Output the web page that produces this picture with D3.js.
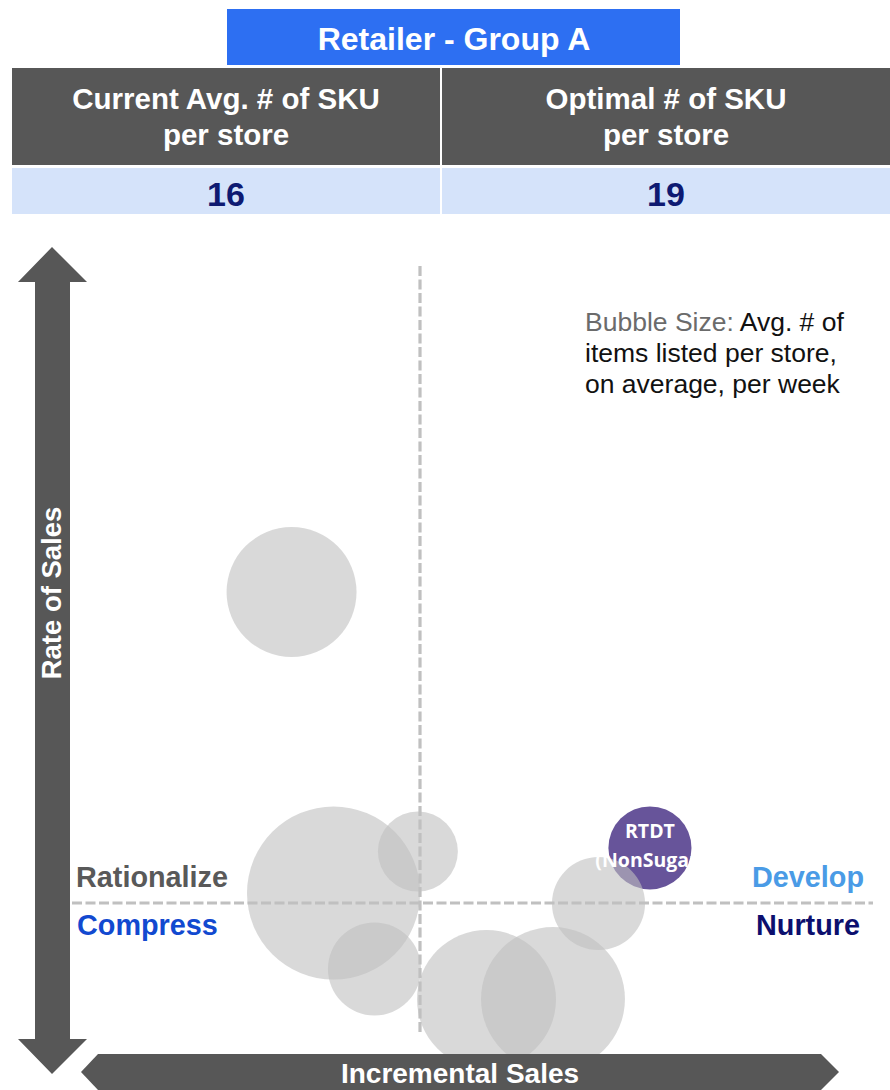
<!DOCTYPE html>
<html>
<head>
<meta charset="utf-8">
<script src="https://cdn.jsdelivr.net/npm/d3@7"></script>
<style>
  html, body { margin: 0; padding: 0; background: #ffffff; }
  svg { display: block; }
</style>
</head>
<body>
<div id="chart"></div>
<script>
// ---- Data -------------------------------------------------------------
const title = "Retailer - Group A";
const metricHeaders = [["Current Avg. # of SKU", "per store"], ["Optimal # of SKU", "per store"]];
const metricValues = [16, 19];

// One entry per segment bubble
const segmentNames     = ["", "", "", "", "", "", "", "RTDT|(NonSugar)"];
const incrementalSales = [-24.7, -0.6, -13.0, 19.0, 38.0, 51.0, -36.7, 65.7];
const rateOfSales      = [7.1, 36.8, -47.1, -68.9, -68.6, -0.4, 222.1, 39.3];
const itemsListed      = [4.08, 0.87, 1.18, 2.63, 2.82, 1.18, 2.30, 0.94];
const highlighted      = [false, false, false, false, false, false, false, true];

const quadrantLabels = ["Rationalize", "Develop", "Compress", "Nurture"];
const axisLabels = ["Incremental Sales", "Rate of Sales"];
const legendLines = [["Bubble Size: ", "Avg. # of"], ["", "items listed per store,"], ["", "on average, per week"]];

// ---- Layout -----------------------------------------------------------
const W = 890, H = 1090;
const dark = "#575757";
const sans = "'Liberation Sans', Arial, sans-serif";

const svg = d3.select("#chart").append("svg")
  .attr("width", W).attr("height", H)
  .attr("viewBox", `0 0 ${W} ${H}`);

// Header block
svg.append("rect").attr("x", 227).attr("y", 9).attr("width", 453).attr("height", 56).attr("fill", "#2d6ff2");
svg.append("text").attr("x", 454).attr("y", 50).attr("text-anchor", "middle")
  .attr("font-family", sans).attr("font-weight", "bold").attr("font-size", 32).attr("fill", "#ffffff")
  .text(title);

const cells = [{x0: 12, x1: 440}, {x0: 442, x1: 890}];
cells.forEach((c, i) => {
  const cx = (c.x0 + c.x1) / 2;
  svg.append("rect").attr("x", c.x0).attr("y", 68).attr("width", c.x1 - c.x0).attr("height", 97).attr("fill", dark);
  svg.append("rect").attr("x", c.x0).attr("y", 168).attr("width", c.x1 - c.x0).attr("height", 46).attr("fill", "#d5e3fa");
  metricHeaders[i].forEach((line, j) => {
    svg.append("text").attr("x", cx).attr("y", 109 + j * 36).attr("text-anchor", "middle")
      .attr("font-family", sans).attr("font-weight", "bold").attr("font-size", 29.5).attr("fill", "#ffffff")
      .text(line);
  });
  svg.append("text").attr("x", cx).attr("y", 206).attr("text-anchor", "middle")
    .attr("font-family", sans).attr("font-weight", "bold").attr("font-size", 34).attr("fill", "#0e1a72")
    .text(metricValues[i]);
});

// ---- Scales -----------------------------------------------------------
const x = d3.scaleLinear().domain([-100, 100]).range([70, 770]);
const y = d3.scaleLinear().domain([-100, 500]).range([1043, 203]);
const r = d3.scaleSqrt().domain([0, 16]).range([0, 171.4]);

const segments = segmentNames.map((name, i) => ({
  name, sx: incrementalSales[i], sy: rateOfSales[i], size: itemsListed[i], hi: highlighted[i]
}));

// Quadrant divider lines
const dash = {stroke: "#c0c0c0", "stroke-width": 3.2, "stroke-dasharray": "10,3.5"};
const vLine = svg.append("line").attr("x1", x(0)).attr("x2", x(0)).attr("y1", 266).attr("y2", 1035);
const hLine = svg.append("line").attr("x1", 72).attr("x2", 873).attr("y1", y(0)).attr("y2", y(0));
[vLine, hLine].forEach(l => Object.entries(dash).forEach(([k, v]) => l.attr(k, v)));

// Highlighted segment first, translucent grey segments over it
svg.append("g").selectAll("circle").data(segments.filter(d => d.hi)).join("circle")
  .attr("cx", d => x(d.sx)).attr("cy", d => y(d.sy)).attr("r", d => r(d.size))
  .attr("fill", "#67549a");
svg.append("g").selectAll("circle").data(segments.filter(d => !d.hi)).join("circle")
  .attr("cx", d => x(d.sx)).attr("cy", d => y(d.sy)).attr("r", d => r(d.size))
  .attr("fill", "#bfbfbf").attr("fill-opacity", 0.6);

// Segment labels
segments.filter(d => d.name).forEach(d => {
  const lines = d.name.split("|");
  const t = svg.append("text").attr("text-anchor", "middle")
    .attr("font-family", "'Open Sans', sans-serif").attr("font-weight", "bold")
    .attr("font-size", 19.5).attr("fill", "#ffffff");
  lines.forEach((ln, j) => {
    t.append("tspan").attr("x", x(d.sx)).attr("y", y(d.sy) - 10 + j * 29).text(ln);
  });
});

// Quadrant names
const qStyle = [
  {x: 76,  y: 887, anchor: "start", fill: "#595959"},
  {x: 864, y: 887, anchor: "end",   fill: "#4a9be6"},
  {x: 77,  y: 935, anchor: "start", fill: "#1249d0"},
  {x: 860, y: 935, anchor: "end",   fill: "#0c0f6e"}
];
quadrantLabels.forEach((lab, i) => {
  const s = qStyle[i];
  svg.append("text").attr("x", s.x).attr("y", s.y).attr("text-anchor", s.anchor)
    .attr("font-family", sans).attr("font-weight", "bold").attr("font-size", 28.8).attr("fill", s.fill)
    .text(lab);
});

// Bubble-size note
legendLines.forEach((ln, j) => {
  const t = svg.append("text").attr("x", 585).attr("y", 331 + j * 31)
    .attr("font-family", sans).attr("font-size", 26.5);
  if (ln[0]) t.append("tspan").attr("fill", "#6b6b6b").text(ln[0]);
  t.append("tspan").attr("fill", "#111111").text(ln[1]);
});

// Vertical axis: double-headed arrow
const vArrow = d3.path();
vArrow.moveTo(52, 247); vArrow.lineTo(87, 282); vArrow.lineTo(70, 282); vArrow.lineTo(70, 1039);
vArrow.lineTo(87, 1039); vArrow.lineTo(52, 1074); vArrow.lineTo(18, 1039); vArrow.lineTo(35, 1039);
vArrow.lineTo(35, 282); vArrow.lineTo(18, 282); vArrow.closePath();
svg.append("path").attr("d", vArrow.toString()).attr("fill", dark);
svg.append("text").attr("transform", "translate(61,593) rotate(-90)").attr("text-anchor", "middle")
  .attr("font-family", sans).attr("font-weight", "bold").attr("font-size", 27.5).attr("fill", "#ffffff")
  .text(axisLabels[1]);

// Horizontal axis: double-headed arrow along the bottom
const hArrow = d3.path();
hArrow.moveTo(98, 1054); hArrow.lineTo(821, 1054); hArrow.lineTo(839, 1072); hArrow.lineTo(821, 1090);
hArrow.lineTo(98, 1090); hArrow.lineTo(81, 1072); hArrow.closePath();
svg.append("path").attr("d", hArrow.toString()).attr("fill", dark);
svg.append("text").attr("x", 460).attr("y", 1083).attr("text-anchor", "middle")
  .attr("font-family", sans).attr("font-weight", "bold").attr("font-size", 28).attr("fill", "#ffffff")
  .text(axisLabels[0]);
</script>
</body>
</html>
